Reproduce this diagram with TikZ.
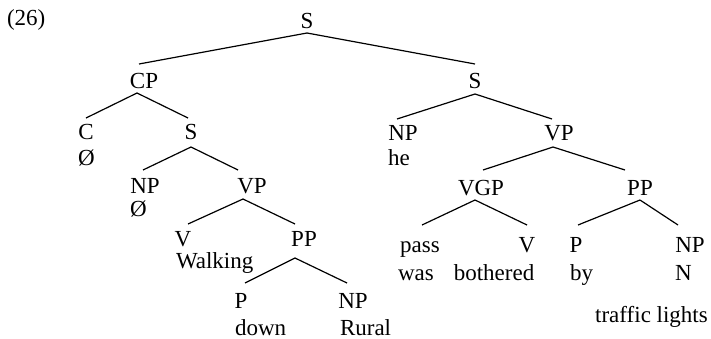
\documentclass[tikz,border=0pt]{standalone}
\usepackage{fontspec}
\setmainfont{Liberation Serif}
\begin{document}
\begin{tikzpicture}[x=0.5pt,y=-0.5pt,
  cat/.style={anchor=base,inner sep=0pt,outer sep=0pt,text height=11.5pt,text depth=2.5pt,font=\fontsize{11.5}{13}\selectfont},
  word/.style={anchor=base west,inner sep=0pt,outer sep=0pt,font=\fontsize{11.5}{13}\selectfont},
  edge/.style={line width=0.6pt}]
\useasboundingbox (0,0) rectangle (711,338);
% nodes
\node[word] (ex) at (7,25) {(26)};
\node[cat] (s0) at (307,28) {S};
\node[cat] (cp) at (144,88) {CP};
\node[cat] (s1) at (475,88) {S};
\node[cat] (c) at (86,139) {C};
\node[word] (c0) at (78,165) {Ø};
\node[cat] (s2) at (191,139) {S};
\node[cat] (np1) at (145,193) {NP};
\node[word] (np10) at (130,216) {Ø};
\node[cat] (vp1) at (252,193) {VP};
\node[cat] (v1) at (183,246) {V};
\node[word] (walking) at (176,268) {Walking};
\node[cat] (pp1) at (304,246) {PP};
\node[cat] (p1) at (241,308) {P};
\node[word] (down) at (235,335) {down};
\node[cat] (np2) at (353,308) {NP};
\node[word] (rural) at (340,335) {Rural};
\node[cat] (np3) at (403,140) {NP};
\node[word] (he) at (388,165) {he};
\node[cat] (vp2) at (559,140) {VP};
\node[cat] (vgp) at (481,195) {VGP};
\node[cat] (pp2) at (640,195) {PP};
\node[cat] (pass) at (420,252) {pass};
\node[word] (was) at (398,280) {was};
\node[cat] (v2) at (527,252) {V};
\node[word,anchor=base] (bothered) at (494,280) {bothered};
\node[cat] (p2) at (576,252) {P};
\node[word] (by) at (570,280) {by};
\node[cat] (np4) at (690,252) {NP};
\node[word] (n) at (675,280) {N};
\node[word,anchor=base] (tl) at (651.5,322) {traffic lights};
% edges
\draw[edge] (s0.south) -- ([shift={(-5,-1)}]cp.north);
\draw[edge] (s0.south) -- ([shift={(0,-1)}]s1.north);
\draw[edge] ([shift={(-7,0)}]cp.south) -- ([shift={(0,2)}]c.north);
\draw[edge] ([shift={(-7,0)}]cp.south) -- ([shift={(-3,2)}]s2.north);
\draw[edge] ([shift={(0,3)}]s2.south) -- ([shift={(-2,0)}]np1.north);
\draw[edge] ([shift={(0,3)}]s2.south) -- ([shift={(-14,0)}]vp1.north);
\draw[edge] ([shift={(-9,1)}]vp1.south) -- ([shift={(5,1)}]v1.north);
\draw[edge] ([shift={(-9,1)}]vp1.south) -- ([shift={(-9,1)}]pp1.north);
\draw[edge] ([shift={(-9,7)}]pp1.south) -- ([shift={(4,-2)}]p1.north);
\draw[edge] ([shift={(-9,7)}]pp1.south) -- ([shift={(-6,-2)}]np2.north);
\draw[edge] ([shift={(0,1)}]s1.south) -- ([shift={(-6,2)}]np3.north);
\draw[edge] ([shift={(0,1)}]s1.south) -- ([shift={(-7,2)}]vp2.north);
\draw[edge] ([shift={(-6,2)}]vp2.south) -- ([shift={(2,-2)}]vgp.north);
\draw[edge] ([shift={(-6,2)}]vp2.south) -- ([shift={(-15,-2)}]pp2.north);
\draw[edge] ([shift={(-6,0)}]vgp.south) -- ([shift={(2,-4)}]pass.north);
\draw[edge] ([shift={(-6,0)}]vgp.south) -- ([shift={(0,-4)}]v2.north);
\draw[edge] (pp2.south) -- ([shift={(2,-4)}]p2.north);
\draw[edge] (pp2.south) -- ([shift={(-12,-4)}]np4.north);
\end{tikzpicture}
\end{document}
